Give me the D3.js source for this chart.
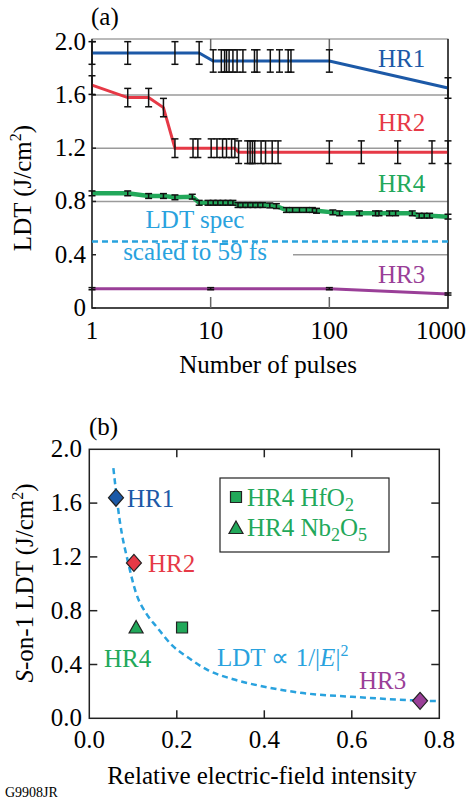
<!DOCTYPE html>
<html>
<head>
<meta charset="utf-8">
<script src="https://cdn.jsdelivr.net/npm/d3@7"></script>
<style>
  body { margin: 0; background: #fff; }
  svg { display: block; }
  text { font-family: "Liberation Serif", "Times New Roman", serif; }
</style>
</head>
<body>
<script>
// ---- panel (a) data: [pulses, LDT, error] ----
var hr1 = [[1,1.915,0.085],[2,1.915,0.085],[5,1.915,0.085],[8,1.915,0.085],
  [10.5,1.855,0.084],[12.3,1.855,0.084],[13.1,1.855,0.084],[13.6,1.855,0.084],[14.3,1.855,0.084],
  [15.4,1.855,0.084],[16.7,1.855,0.084],[18.7,1.855,0.084],[23.4,1.855,0.084],[24.6,1.855,0.084],
  [31.8,1.855,0.084],[38,1.855,0.084],[45,1.855,0.084],[47.5,1.855,0.084],[100,1.855,0.084],[1000,1.652,0.077]]
var hr2 = [[1,1.674,0.07],[2,1.58,0.069],[3,1.58,0.069],[4,1.505,0.069],[5,1.2,0.07],
  [7.1,1.2,0.07],[7.8,1.2,0.07],[10.1,1.2,0.07],[11.3,1.2,0.07],[12.6,1.2,0.07],[13.6,1.2,0.07],
  [15,1.2,0.07],[16,1.2,0.07],[17.2,1.17,0.085],[20.5,1.17,0.085],[21.5,1.17,0.085],[22.5,1.17,0.085],
  [23.5,1.17,0.085],[26.6,1.17,0.085],[29,1.17,0.085],[33,1.17,0.085],[37,1.17,0.085],
  [100,1.17,0.085],[186,1.17,0.085],[377,1.17,0.085],[733,1.17,0.085],[1000,1.17,0.085]]
var hr4 = [[1,0.861],[2,0.861],[3,0.841],[4,0.841],[5,0.831],[7,0.836],[8,0.79],[9.5,0.79],
  [10.5,0.79],[11.5,0.79],[12.7,0.79],[14,0.79],[15.4,0.79],[17,0.773],[18.7,0.773],[20.6,0.773],
  [22.7,0.773],[25,0.773],[27.5,0.773],[31.5,0.77],[35.8,0.765],[43.5,0.736],[49,0.736],[56,0.736],
  [64,0.736],[72,0.736],[78,0.73],[107,0.718],[122,0.711],[179,0.711],[245,0.711],[262,0.711],
  [321,0.711],[362,0.711],[500,0.711],[572,0.693],[630,0.693],[700,0.693],[1000,0.686]]
var hr4Err = 0.018
var hr3 = [[1,0.145],[10,0.145],[100,0.145],[1000,0.105]]
var hr3Err = 0.008
var specLdt = 0.5
var pulseTicks = [1, 10, 100, 1000]
var ldtTicksA = [0, 0.4, 0.8, 1.2, 1.6, 2.0]
var gridA = [0.4, 0.8, 1.2, 1.6]

// ---- panel (b) data: [relative intensity, S-on-1 LDT] ----
var pointsB = [
  {name: 'HR1', x: 0.061, y: 1.64, shape: 'diamond', color: '#1c59a7'},
  {name: 'HR2', x: 0.102, y: 1.155, shape: 'diamond', color: '#e63946'},
  {name: 'HR4 Nb2O5', x: 0.107, y: 0.675, shape: 'triangle', color: '#22a85a'},
  {name: 'HR4 HfO2', x: 0.212, y: 0.675, shape: 'square', color: '#22a85a'},
  {name: 'HR3', x: 0.756, y: 0.13, shape: 'diamond', color: '#9a3f98'}]
var fitCurve = [[0.055,1.86],[0.07,1.46],[0.089,1.155],[0.107,0.93],[0.13,0.78],[0.154,0.68],
  [0.19,0.54],[0.223,0.458],[0.27,0.36],[0.329,0.29],[0.4,0.235],[0.482,0.19],[0.6,0.16],
  [0.7,0.14],[0.8,0.127]]
var xTicksB = [0, 0.2, 0.4, 0.6, 0.8]
var yTicksB = [0, 0.4, 0.8, 1.2, 1.6, 2.0]

var blue = '#1c59a7', red = '#e63946', green = '#22a85a', purple = '#9a3f98', sky = '#29a2de'
var fs = 25, sup = 16

var svg = d3.select('body').append('svg').attr('width', 470).attr('height', 800)

// marker shapes drawn as plain paths
var shapes = {
  diamond: 'M0,-8.5L7.5,0L0,8.5L-7.5,0Z',
  triangle: 'M0,-7L7,5.5L-7,5.5Z',
  square: 'M-5.5,-5.5H5.5V5.5H-5.5Z'
}

// =================== panel (a) ===================
var xa = d3.scaleLog().domain([1, 1000]).range([92, 448])
var ya = d3.scaleLinear().domain([0, 2.02]).range([308, 39])
var ga = svg.append('g')

ga.selectAll('.grid').data(gridA).enter().append('line')
  .attr('x1', function(d){ return d == 0.4 ? 293 : xa(1) }).attr('x2', xa(1000))
  .attr('y1', ya).attr('y2', ya)
  .attr('stroke', '#9a9a9a').attr('stroke-width', 1.5)

// frame
ga.append('rect').attr('x', xa(1)).attr('y', ya(2.02)).attr('width', xa(1000) - xa(1)).attr('height', ya(0) - ya(2.02))
  .attr('fill', 'none').attr('stroke', '#777').attr('stroke-width', 1)
ga.append('path').attr('d', 'M' + xa(1) + ',' + ya(2.02) + 'V' + ya(0) + 'H' + xa(1000) + 'V' + ya(2.02))
  .attr('fill', 'none').attr('stroke', '#222').attr('stroke-width', 1.5)

// inner ticks on x at 10, 100
;[10, 100].forEach(function(v){
  ga.append('line').attr('x1', xa(v)).attr('x2', xa(v)).attr('y1', ya(0)).attr('y2', ya(0) - 11).attr('stroke', '#666').attr('stroke-width', 1.5)
  ga.append('line').attr('x1', xa(v)).attr('x2', xa(v)).attr('y1', ya(2.02)).attr('y2', ya(2.02) + 11).attr('stroke', '#666').attr('stroke-width', 1.5)
})
ldtTicksA.forEach(function(v){
  ga.append('line').attr('x1', xa(1)).attr('x2', xa(1) + 4).attr('y1', ya(v)).attr('y2', ya(v)).attr('stroke', '#222').attr('stroke-width', 1.5)
})

// tick labels (last one pulled left so it stays inside the page)
ga.selectAll('.xl').data(pulseTicks).enter().append('text')
  .attr('x', function(d){ return d == 1000 ? 466 : xa(d) }).attr('y', 339)
  .attr('text-anchor', function(d){ return d == 1000 ? 'end' : 'middle' })
  .attr('font-size', fs).text(function(d){ return d })
ga.selectAll('.yl').data(ldtTicksA).enter().append('text')
  .attr('x', 86).attr('y', function(d){ return ya(d) + 8 }).attr('text-anchor', 'end').attr('font-size', fs)
  .text(function(d){ return d == 0 ? '0' : d.toFixed(1) })

// spec line
ga.append('line').attr('x1', xa(1)).attr('x2', xa(1000)).attr('y1', ya(specLdt)).attr('y2', ya(specLdt))
  .attr('stroke', sky).attr('stroke-width', 2.5).attr('stroke-dasharray', '6,4')

var lineA = d3.line().x(function(d){ return xa(d[0]) }).y(function(d){ return ya(d[1]) })

function drawSeries(data, color, width, err) {
  ga.append('path').datum(data).attr('d', lineA).attr('fill', 'none').attr('stroke', color).attr('stroke-width', width)
  var bars = ga.append('g').attr('stroke', '#111').attr('stroke-width', 1.5)
  data.forEach(function(d){
    var e = d.length > 2 ? d[2] : err
    var x = xa(d[0]), y0 = ya(d[1] - e), y1 = ya(d[1] + e)
    bars.append('line').attr('x1', x).attr('x2', x).attr('y1', y0).attr('y2', y1)
    bars.append('line').attr('x1', x - 3.5).attr('x2', x + 3.5).attr('y1', y0).attr('y2', y0)
    bars.append('line').attr('x1', x - 3.5).attr('x2', x + 3.5).attr('y1', y1).attr('y2', y1)
  })
}
drawSeries(hr1, blue, 3)
drawSeries(hr2, red, 3)
drawSeries(hr4, green, 4.5, hr4Err)
drawSeries(hr3, purple, 3, hr3Err)

// labels
function label(g, x, y, txt, color, anchor) {
  return g.append('text').attr('x', x).attr('y', y).attr('fill', color).attr('font-size', fs)
    .attr('text-anchor', anchor || 'start').text(txt)
}
label(ga, 378, 67, 'HR1', blue)
label(ga, 378, 131, 'HR2', red)
label(ga, 378, 192, 'HR4', green)
label(ga, 378, 283, 'HR3', purple)
label(ga, 195, 228, 'LDT spec', sky, 'middle')
label(ga, 195, 260, 'scaled to 59 fs', sky, 'middle')
ga.append('text').attr('x', 91).attr('y', 25).attr('font-size', fs).text('(a)')
ga.append('text').attr('x', 268).attr('y', 373).attr('text-anchor', 'middle').attr('font-size', fs).text('Number of pulses')

var yta = ga.append('text').attr('transform', 'translate(31,188) rotate(-90)').attr('text-anchor', 'middle').attr('font-size', fs)
yta.append('tspan').text('LDT (J/cm')
yta.append('tspan').attr('font-size', sup).attr('dy', -10).text('2')
yta.append('tspan').attr('dy', 10).text(')')

// =================== panel (b) ===================
var xb = d3.scaleLinear().domain([0, 0.8]).range([89.3, 439.3])
var yb = d3.scaleLinear().domain([0, 2]).range([718.3, 449.3])
var gb = svg.append('g')

gb.append('rect').attr('x', xb(0)).attr('y', yb(2)).attr('width', xb(0.8) - xb(0)).attr('height', yb(0) - yb(2))
  .attr('fill', 'none').attr('stroke', '#222').attr('stroke-width', 1.5)
xTicksB.slice(1, -1).forEach(function(v){
  gb.append('line').attr('x1', xb(v)).attr('x2', xb(v)).attr('y1', yb(0)).attr('y2', yb(0) - 8).attr('stroke', '#222').attr('stroke-width', 1.5)
  gb.append('line').attr('x1', xb(v)).attr('x2', xb(v)).attr('y1', yb(2)).attr('y2', yb(2) + 8).attr('stroke', '#222').attr('stroke-width', 1.5)
})
yTicksB.slice(1, -1).forEach(function(v){
  gb.append('line').attr('x1', xb(0)).attr('x2', xb(0) + 8).attr('y1', yb(v)).attr('y2', yb(v)).attr('stroke', '#222').attr('stroke-width', 1.5)
  gb.append('line').attr('x1', xb(0.8)).attr('x2', xb(0.8) - 8).attr('y1', yb(v)).attr('y2', yb(v)).attr('stroke', '#222').attr('stroke-width', 1.5)
})
gb.selectAll('.xl').data(xTicksB).enter().append('text')
  .attr('x', xb).attr('y', 748).attr('text-anchor', 'middle').attr('font-size', fs).text(function(d){ return d.toFixed(1) })
gb.selectAll('.yl').data(yTicksB).enter().append('text')
  .attr('x', 82).attr('y', function(d){ return yb(d) + 8 }).attr('text-anchor', 'end').attr('font-size', fs).text(function(d){ return d.toFixed(1) })

gb.append('path').datum(fitCurve)
  .attr('d', d3.line().curve(d3.curveMonotoneX).x(function(d){ return xb(d[0]) }).y(function(d){ return yb(d[1]) }))
  .attr('fill', 'none').attr('stroke', sky).attr('stroke-width', 2.5).attr('stroke-dasharray', '6,4')

gb.selectAll('.pt').data(pointsB).enter().append('path')
  .attr('transform', function(d){ return 'translate(' + xb(d.x) + ',' + yb(d.y) + ')' })
  .attr('d', function(d){ return shapes[d.shape] })
  .attr('fill', function(d){ return d.color }).attr('stroke', '#222').attr('stroke-width', 1.2)

label(gb, 127, 507, 'HR1', blue)
label(gb, 148, 572, 'HR2', red)
label(gb, 104, 667, 'HR4', green)
label(gb, 359, 689, 'HR3', purple)
var fitLbl = label(gb, 217, 666, '', sky)
fitLbl.append('tspan').text('LDT \u221D 1/|')
fitLbl.append('tspan').attr('font-style', 'italic').text('E')
fitLbl.append('tspan').text('|')
fitLbl.append('tspan').attr('font-size', sup).attr('dy', -10).text('2')

// legend
gb.append('rect').attr('x', 220).attr('y', 478).attr('width', 169).attr('height', 74)
  .attr('fill', '#fff').attr('stroke', '#222').attr('stroke-width', 1.2)
gb.append('path').attr('transform', 'translate(236,497)').attr('d', shapes.square)
  .attr('fill', green).attr('stroke', '#222').attr('stroke-width', 1.2)
gb.append('path').attr('transform', 'translate(236,528)').attr('d', shapes.triangle)
  .attr('fill', green).attr('stroke', '#222').attr('stroke-width', 1.2)
var l1 = label(gb, 247, 506, '', green)
l1.append('tspan').text('HR4 HfO')
l1.append('tspan').attr('font-size', sup + 2).attr('dy', 5).text('2')
var l2 = label(gb, 247, 536, '', green)
l2.append('tspan').text('HR4 Nb')
l2.append('tspan').attr('font-size', sup + 2).attr('dy', 5).text('2')
l2.append('tspan').attr('dy', -5).text('O')
l2.append('tspan').attr('font-size', sup + 2).attr('dy', 5).text('5')

gb.append('text').attr('x', 89).attr('y', 435).attr('font-size', fs).text('(b)')
gb.append('text').attr('x', 262).attr('y', 784).attr('text-anchor', 'middle').attr('font-size', fs).text('Relative electric-field intensity')
var ytb = gb.append('text').attr('transform', 'translate(33,583) rotate(-90)').attr('text-anchor', 'middle').attr('font-size', fs)
ytb.append('tspan').attr('font-style', 'italic').text('S')
ytb.append('tspan').text('-on-1 LDT (J/cm')
ytb.append('tspan').attr('font-size', sup).attr('dy', -10).text('2')
ytb.append('tspan').attr('dy', 10).text(')')

svg.append('text').attr('x', 5).attr('y', 797).attr('font-size', 14).text('G9908JR')
</script>
</body>
</html>
